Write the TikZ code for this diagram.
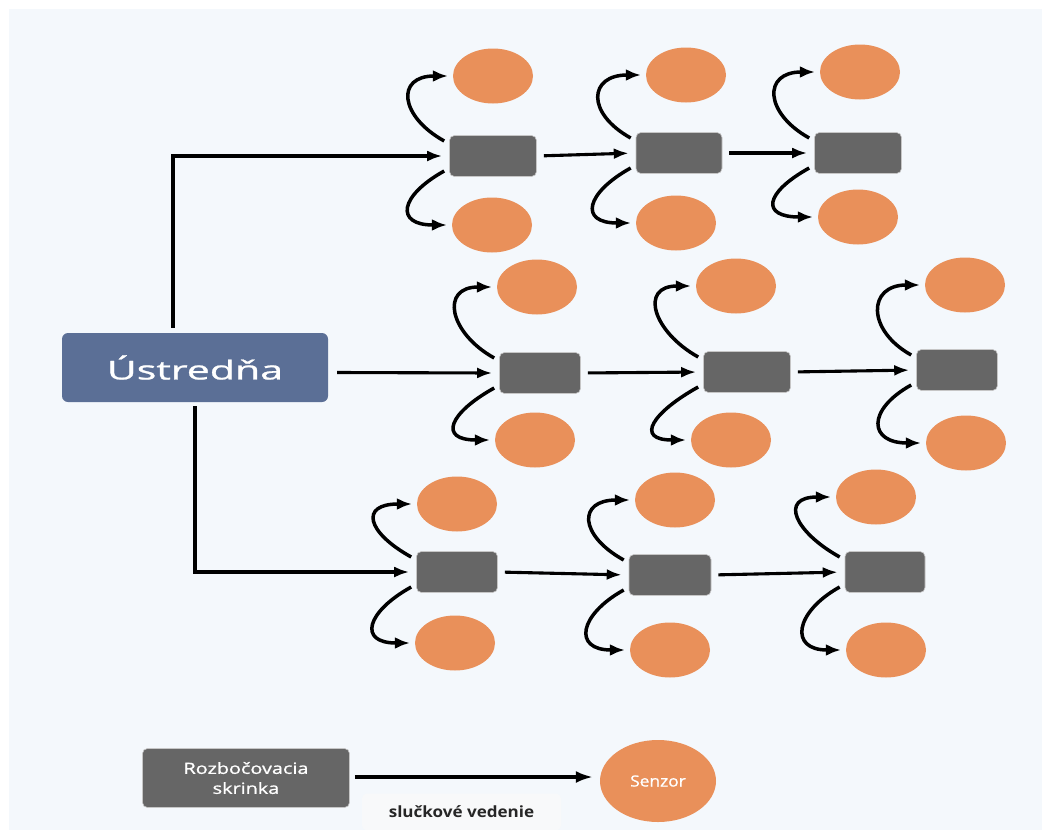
\documentclass[tikz,border=0pt]{standalone}
\usepackage{fontspec}
\setmainfont{Open Sans}
\newfontfamily\medfont[FakeBold=0.9]{Open Sans}
\usetikzlibrary{arrows.meta,calc,shapes.geometric}
\definecolor{bg}{HTML}{F4F8FC}
\definecolor{orng}{HTML}{E9905A}
\definecolor{gbox}{HTML}{666666}
\definecolor{mainc}{HTML}{5B6F96}
\definecolor{lbl}{HTML}{F8F9FA}
\tikzset{
  hub/.style={draw=gray!45, line width=0.6pt, fill=gbox, rounded corners=5pt,
    minimum height=41pt, inner sep=0pt},
  sensor/.style={ellipse, fill=orng, minimum width=80pt, minimum height=55pt, inner sep=0pt},
  link/.style={line width=3.1pt, -{Latex[length=15pt,width=11pt]}},
  loopar/.style={line width=3.5pt, -{Latex[length=15pt,width=12pt]}},
}
\begin{document}
\begin{tikzpicture}[x=1pt,y=-1pt]
\useasboundingbox (0,0) rectangle (1042,830);
\fill[white] (0,0) rectangle (1042,830);
\fill[bg] (9,9) rectangle (1042,830);

% main node
\node[fill=mainc, rounded corners=6pt, minimum width=266pt, minimum height=69pt,
  text=white, font=\medfont\fontsize{26}{30}\selectfont] (main) at (195,367.5)
  {\scalebox{1.58}[1]{Ústredňa}};

% hubs with their sensors: name / x / y / width / top sensor x,y / bottom sensor x,y
\foreach \n/\cx/\cy/\w/\tx/\ty/\bx/\by in {
  11/493/156/87/493/76/492/225,
  12/679/153/86/686/75/676/223,
  13/858/153/87/860/72/858/217,
  21/540/373/81/537/287/535/440,
  22/747/372/87/736/286/731/440,
  23/957/370/81/965/285/966/443,
  31/457/572/81/457/504/455/643,
  32/670/575/82/675/500/670/650,
  33/885/572/80/876/497/886/650}{
  \node[hub, minimum width=\w pt] (b\n) at (\cx,\cy) {};
  \node[sensor] (t\n) at (\tx,\ty) {};
  \node[sensor] (s\n) at (\bx,\by) {};
  \draw[loopar] ($(b\n.west)+(-5,-15)$) .. controls +(-45,-25) and +(-52,0) .. ($(t\n.west)+(-5,0)$);
  \draw[loopar] ($(b\n.west)+(-5,15)$) .. controls +(-45,25) and +(-52,0) .. ($(s\n.west)+(-5,0)$);
}

% links from the control unit
\draw[link] ($(main.north)+(-22,-5)$) |- ($(b11.west)+(-7,0)$);
\draw[link] ($(main.east)+(9,5)$) -- ($(b21.west)+(-7,0)$);
\draw[link] ($(main.south)+(0,4)$) |- ($(b31.west)+(-7,0)$);

% links between hubs
\foreach \a/\b in {11/12,12/13,21/22,22/23,31/32,32/33}{
  \draw[link, shorten <=7pt, shorten >=7pt] (b\a.east) -- (b\b.west);
}

% legend
\node[hub, minimum width=207pt, minimum height=59pt, text=white, align=center,
  font=\medfont\fontsize{15.5}{20}\selectfont] (lhub) at (246,778)
  {\scalebox{1.28}[1]{Rozbočovacia}\\\scalebox{1.28}[1]{skrinka}};
\node[ellipse, fill=orng, minimum width=116pt, minimum height=82pt, inner sep=0pt,
  text=white, font=\medfont\fontsize{15.5}{18}\selectfont] (lsen) at (658,781)
  {\scalebox{1.12}[1]{Senzor}};
\node[fill=lbl, rounded corners=5pt, minimum width=199pt, minimum height=37pt,
  font=\fontsize{15.5}{18}\selectfont\bfseries, text=black!85] (lbltxt) at (461.5,812)
  {\scalebox{1.1}[1]{slučkové vedenie}};
\draw[line width=3.1pt, -{Latex[length=17pt,width=12pt]}] ($(lhub.east)+(5,-1)$) -- ($(lsen.west)+(-7,-4)$);
\end{tikzpicture}
\end{document}
